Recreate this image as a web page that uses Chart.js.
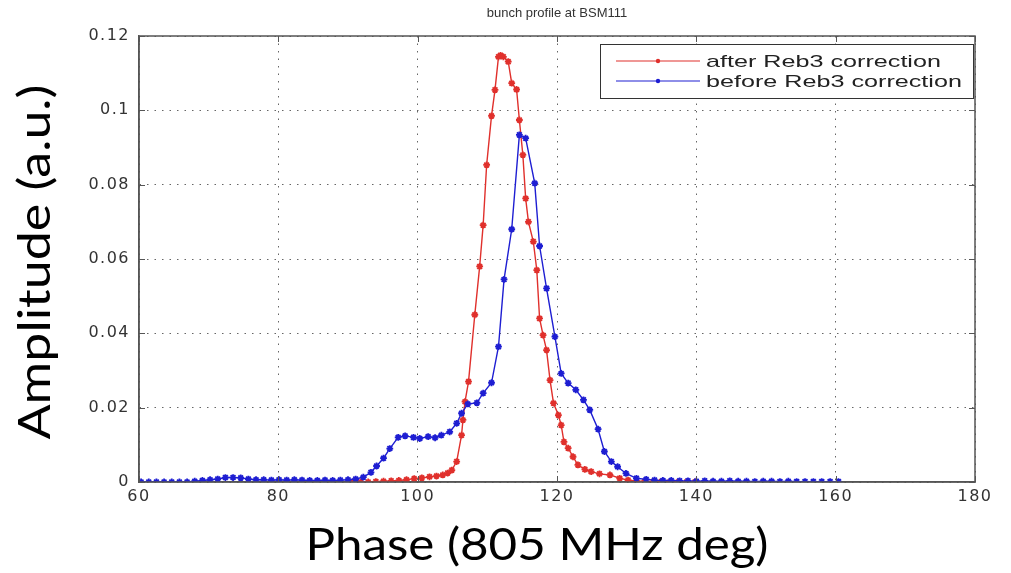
<!DOCTYPE html>
<html>
<head>
<meta charset="utf-8">
<script src="https://cdn.jsdelivr.net/npm/chart.js@4/dist/chart.umd.min.js"></script>
<style>
  html, body { margin: 0; padding: 0; background: #ffffff; }
  #wrap { width: 1011px; height: 573px; position: relative; }
</style>
</head>
<body>
<div id="wrap"><canvas id="c" width="1011" height="573"></canvas></div>
<script>
// ---- data ----
const chartTitle = "bunch profile at BSM111";
const xTitle = "Phase (805 MHz deg)";
const yTitle = "Amplitude (a.u.)";
const seriesNames = ["after Reb3 correction", "before Reb3 correction"];
const xTicks = [60, 80, 100, 120, 140, 160, 180];
const yTicks = [0, 0.02, 0.04, 0.06, 0.08, 0.1, 0.12];

const afterPhase = [90.7, 91.8, 92.9, 94.0, 95.1, 96.2, 97.3, 98.4, 99.5, 100.6, 101.7, 102.7, 103.6, 104.3, 104.9, 105.6, 106.3, 106.5, 106.8, 107.3, 108.2, 108.9, 109.4, 109.9, 110.6, 111.1, 111.6, 111.9, 112.3, 113.0, 113.5, 114.2, 114.6, 115.1, 115.5, 115.9, 116.6, 117.1, 117.5, 118.0, 118.5, 119.0, 119.5, 120.2, 120.6, 121.0, 121.6, 122.3, 123.0, 124.0, 124.9, 126.1, 127.6, 129.0, 130.2, 131.4, 132.6, 133.8, 135.0, 136.2, 137.4, 138.6, 139.8];
const afterAmp = [0, 0, 0, 0.0001, 0.0002, 0.0003, 0.0004, 0.0006, 0.0009, 0.0011, 0.0014, 0.0016, 0.0019, 0.0024, 0.0032, 0.0055, 0.0126, 0.0167, 0.0216, 0.027, 0.045, 0.058, 0.0691, 0.0853, 0.0985, 0.1055, 0.1144, 0.1148, 0.1144, 0.1131, 0.1073, 0.1056, 0.0974, 0.088, 0.0763, 0.070, 0.0647, 0.057, 0.044, 0.0395, 0.0355, 0.0274, 0.0212, 0.018, 0.0153, 0.0108, 0.0091, 0.0068, 0.0046, 0.0034, 0.0028, 0.0022, 0.0019, 0.001, 0.0005, 0.0003, 0.0002, 0.0001, 0.0001, 0, 0, 0, 0];

const beforePhase = [60.3, 61.4, 62.5, 63.6, 64.7, 65.8, 66.9, 68.0, 69.1, 70.2, 71.3, 72.4, 73.5, 74.6, 75.7, 76.8, 77.9, 79.0, 80.1, 81.2, 82.3, 83.4, 84.5, 85.6, 86.7, 87.8, 88.9, 90.0, 91.1, 92.2, 93.3, 94.1, 95.1, 96.0, 97.2, 98.2, 99.4, 100.3, 101.5, 102.5, 103.4, 104.6, 105.6, 106.3, 107.2, 108.5, 109.4, 110.6, 111.6, 112.4, 113.5, 114.6, 115.5, 116.8, 117.5, 118.5, 119.7, 120.6, 121.6, 122.7, 123.8, 124.7, 125.9, 126.8, 127.8, 128.7, 129.9, 131.4, 132.8, 134.0, 135.2, 136.4, 137.6, 138.8, 140.0, 141.2, 142.4, 143.6, 144.8, 146.0, 147.2, 148.4, 149.6, 150.8, 152.0, 153.2, 154.4, 155.6, 156.8, 158.0, 159.2, 160.4];
const beforeAmp = [0, 0, 0, 0, 0, 0, 0, 0.0002, 0.0004, 0.0006, 0.0008, 0.0012, 0.0012, 0.0011, 0.0008, 0.0006, 0.0006, 0.0005, 0.0006, 0.0005, 0.0006, 0.0005, 0.0004, 0.0004, 0.0005, 0.0004, 0.0005, 0.0006, 0.0008, 0.0013, 0.0026, 0.0043, 0.0064, 0.009, 0.012, 0.0124, 0.012, 0.0117, 0.0122, 0.0119, 0.0126, 0.0135, 0.0158, 0.0185, 0.021, 0.0213, 0.0239, 0.0267, 0.0364, 0.0545, 0.068, 0.0934, 0.0925, 0.0804, 0.0635, 0.0521, 0.0391, 0.0292, 0.0266, 0.0248, 0.0221, 0.0194, 0.0142, 0.0082, 0.0055, 0.0041, 0.0023, 0.001, 0.0007, 0.0005, 0.0004, 0.0004, 0.0003, 0.0003, 0.0002, 0.0003, 0.0002, 0.0002, 0.0003, 0.0002, 0.0002, 0.0001, 0.0002, 0.0002, 0.0001, 0.0002, 0.0001, 0.0001, 0.0001, 0.0001, 0.0001, 0.0001];

const redColor = "#e0302c";
const blueColor = "#1e1ed2";

function toPoints(xs, ys) { return xs.map((x, i) => ({ x: x, y: ys[i] })); }

const tickFont = { family: "'DejaVu Sans', 'Liberation Sans', sans-serif", size: 16 };

// draw text stretched horizontally (the reference image is stretched sideways)
function stretchedText(ctx, text, x, y, sx, align) {
  ctx.save();
  ctx.translate(x, y);
  ctx.scale(sx, 1);
  ctx.textAlign = align;
  ctx.fillText(text, 0, 0);
  ctx.restore();
}

const decorPlugin = {
  id: 'decor',
  beforeDraw(chart) {
    chart.ctx.letterSpacing = '1.5px';
  },
  afterDraw(chart) {
    const ctx = chart.ctx;
    const a = chart.chartArea;
    ctx.save();
    ctx.letterSpacing = '0px';
    // frame
    ctx.strokeStyle = '#555';
    ctx.lineWidth = 1.5;
    ctx.strokeRect(a.left, a.top, a.right - a.left, a.bottom - a.top);
    // inner tick marks (matlab style)
    ctx.lineWidth = 1;
    ctx.beginPath();
    const xs = chart.scales.x, ys = chart.scales.y;
    xTicks.forEach(v => {
      const px = Math.round(xs.getPixelForValue(v)) + 0.5;
      ctx.moveTo(px, a.bottom); ctx.lineTo(px, a.bottom - 6);
      ctx.moveTo(px, a.top); ctx.lineTo(px, a.top + 6);
    });
    yTicks.forEach(v => {
      const py = Math.round(ys.getPixelForValue(v)) + 0.5;
      ctx.moveTo(a.left, py); ctx.lineTo(a.left + 6, py);
      ctx.moveTo(a.right, py); ctx.lineTo(a.right - 6, py);
    });
    ctx.stroke();
    // chart title
    ctx.fillStyle = '#333';
    ctx.font = "13px 'Liberation Sans', Arial, sans-serif";
    ctx.textBaseline = 'middle';
    stretchedText(ctx, chartTitle, (a.left + a.right) / 2, 13, 1.0, 'center');
    // axis titles
    ctx.fillStyle = '#000';
    ctx.font = "44px Lato, 'Open Sans', sans-serif";
    stretchedText(ctx, xTitle, 537, 546, 1.12, 'center');
    ctx.save();
    ctx.translate(36, 262);
    ctx.rotate(-Math.PI / 2);
    ctx.scale(1.18, 1.0);
    ctx.textAlign = 'center';
    ctx.fillText(yTitle, 0, 0);
    ctx.restore();
    // legend
    const bx = 600, by = 44, bw = 373, bh = 54;
    ctx.fillStyle = '#fff';
    ctx.fillRect(bx, by, bw, bh);
    ctx.strokeStyle = '#333';
    ctx.lineWidth = 1;
    ctx.strokeRect(bx + 0.5, by + 0.5, bw, bh);
    const rows = [[seriesNames[0], redColor, 61], [seriesNames[1], blueColor, 81]];
    ctx.font = "17px 'Liberation Sans', Arial, sans-serif";
    ctx.textBaseline = 'middle';
    rows.forEach(r => {
      ctx.strokeStyle = r[1];
      ctx.lineWidth = 1.2;
      ctx.beginPath();
      ctx.moveTo(616, r[2]);
      ctx.lineTo(700, r[2]);
      ctx.stroke();
      ctx.fillStyle = r[1];
      ctx.beginPath();
      ctx.arc(658, r[2], 2.2, 0, Math.PI * 2);
      ctx.fill();
      ctx.fillStyle = '#222';
      stretchedText(ctx, r[0], 706, r[2] + 1, 1.48, 'left');
    });
    ctx.restore();
  }
};

new Chart(document.getElementById('c'), {
  type: 'line',
  data: {
    datasets: [
      {
        label: seriesNames[1],
        data: toPoints(beforePhase, beforeAmp),
        borderColor: blueColor,
        backgroundColor: blueColor,
        borderWidth: 1.4,
        pointStyle: 'star',
        pointRadius: 3.4,
        pointBorderWidth: 1.8,
        tension: 0,
        fill: false
      },
      {
        label: seriesNames[0],
        data: toPoints(afterPhase, afterAmp),
        borderColor: redColor,
        backgroundColor: redColor,
        borderWidth: 1.4,
        pointStyle: 'star',
        pointRadius: 3.4,
        pointBorderWidth: 1.8,
        tension: 0,
        fill: false
      }
    ]
  },
  options: {
    responsive: false,
    animation: false,
    layout: { padding: { top: 36, right: 36, left: 0, bottom: 0 } },
    plugins: {
      legend: { display: false },
      title: { display: false },
      tooltip: { enabled: false }
    },
    scales: {
      x: {
        type: 'linear',
        min: 60, max: 180,
        afterBuildTicks(scale) { scale.ticks = xTicks.map(v => ({ value: v })); },
        afterFit(scale) { scale.height = 91; },
        ticks: { font: tickFont, color: '#333', padding: 5, maxRotation: 0, autoSkip: false },
        grid: { color: '#666', lineWidth: 1, drawTicks: false },
        border: { display: true, color: '#555', width: 1.5, dash: [1.5, 6] }
      },
      y: {
        type: 'linear',
        min: 0, max: 0.12,
        afterBuildTicks(scale) { scale.ticks = yTicks.map(v => ({ value: v })); },
        afterFit(scale) { scale.width = 139; },
        ticks: { font: tickFont, color: '#333', padding: 9, callback: v => String(Math.round(v * 100) / 100) },
        grid: { color: '#666', lineWidth: 1, drawTicks: false },
        border: { display: true, color: '#555', width: 1.5, dash: [1.5, 6] }
      }
    }
  },
  plugins: [decorPlugin]
});
</script>
</body>
</html>
